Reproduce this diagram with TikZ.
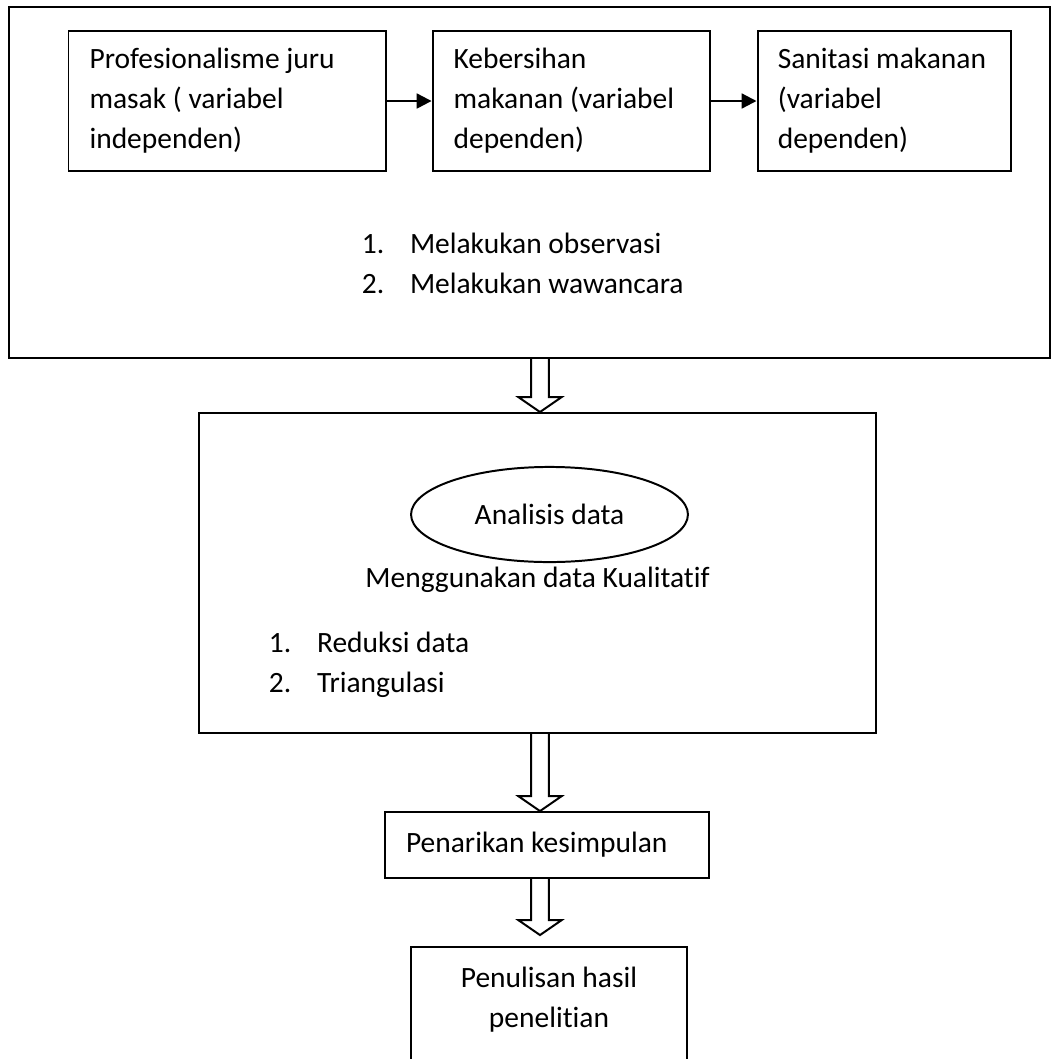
\documentclass[tikz,border=0pt]{standalone}
\usepackage{fontspec}
\setmainfont{Carlito}[Ligatures=NoCommon]
\usetikzlibrary{positioning, fit, shapes.geometric, arrows.meta, calc}

\tikzset{
  kotak/.style={draw, align=flush left, inner xsep=8.5pt, inner ysep=0pt, minimum height=56.5pt},
  teks/.style={align=flush left, inner sep=0pt},
  panahkecil/.style={-{Triangle[length=6pt, width=6pt]}, line width=0.9pt},
  hollow/.style={line width=0.8pt, line join=miter}
}
% panah berongga dari #1 ke #2
\newcommand{\panah}[2]{%
  \draw[hollow] let \p1=(#1), \p2=(#2) in
    (\x1-3.6pt,\y1) -- (\x1-3.6pt,\y2+6pt) -- (\x1-8.7pt,\y2+6pt) -- (\x1,\y2)
    -- (\x1+8.7pt,\y2+6pt) -- (\x1+3.6pt,\y2+6pt) -- (\x1+3.6pt,\y1);}
\newcommand{\nomor}[1]{\makebox[19.4pt][l]{#1}}

\begin{document}
\begin{tikzpicture}[x=0.01419cm, y=-0.01419cm, font=\fontsize{11.9}{16.2}\selectfont, line width=0.8pt]
\clip (0,0) rectangle (1057,1059);
\coordinate (sumbu) at (540,0);
% tahap 1
\node[draw, fit={(9,7) (1050,358)}, inner sep=0pt] (tahap1) {};
\node[kotak, text width=111pt] (prof) at (227,101) {Profesionalisme juru\\masak ( variabel\\independen)};
\node[kotak, text width=95pt, right=18.2pt of prof] (bersih) {Kebersihan\\makanan (variabel\\dependen)};
\node[kotak, text width=86pt, inner xsep=8.2pt, right=18.4pt of bersih] (sanitasi) {\mbox{Sanitasi makanan}\\(variabel\\dependen)};
\draw[panahkecil] (prof) -- (bersih);
\draw[panahkecil] (bersih) -- (sanitasi);
\node[teks, anchor=west] (metode) at (361,263) {\nomor{1.}Melakukan observasi\\\nomor{2.}Melakukan wawancara};
% tahap 2
\node[draw, minimum width=273.3pt, minimum height=129.2pt, inner sep=0pt] (analisis) at (537.5,573) {};
\node[draw, ellipse, minimum width=111.8pt, minimum height=38.4pt, inner sep=0pt] (elips) at (549.5,514.5) {Analisis data};
\node[teks] (kualitatif) at (537.5,580) {Menggunakan data Kualitatif};
\node[teks, anchor=west] (langkah) at (268,665) {\nomor{1.}Reduksi data\\\nomor{2.}Triangulasi};
% tahap 3 dan 4
\node[draw, minimum width=130.8pt, minimum height=26.6pt, inner xsep=8.5pt, text width=113.8pt, align=flush left] (tarik) at (547,845) {Penarikan kesimpulan};
\node[draw, minimum width=111.4pt, minimum height=56.5pt, inner sep=0pt, align=flush center] (tulis) at (549,1017) {Penulisan hasil\\penelitian\\\mbox{}};
\coordinate (ujung) at ($(tulis.north -| sumbu)+(0,-11)$);
\panah{tahap1.south -| sumbu}{analisis.north -| sumbu}
\panah{analisis.south -| sumbu}{tarik.north -| sumbu}
\panah{tarik.south -| sumbu}{ujung}
\end{tikzpicture}
\end{document}
